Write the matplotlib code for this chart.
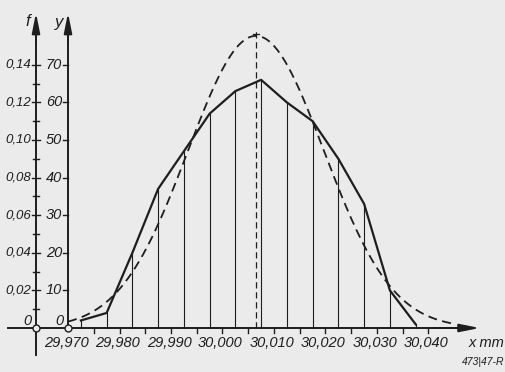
import numpy as np
import matplotlib.pyplot as plt

plt.rcParams['font.family'] = ['Liberation Sans', 'DejaVu Sans']

# class midpoints (mm) and counts y read from the frequency polygon
x_mid = [29.9725, 29.9775, 29.9825, 29.9875, 29.9925, 29.9975, 30.0025,
         30.0075, 30.0125, 30.0175, 30.0225, 30.0275, 30.0325, 30.0375]
counts = [2, 4, 20, 37, 47, 57, 63, 66, 60, 55, 45, 33, 10, 1]
n_total = 500

# dashed normal curve, parameters
mean_x = 30.0065
sigma_x = 0.0132
peak_y = 77.7
curve_from, curve_to = 29.970, 30.0445

x_ticks = [29.970, 29.980, 29.990, 30.000, 30.010, 30.020, 30.030, 30.040]
x_labels = ['29,970', '29,980', '29,990', '30,000', '30,010', '30,020', '30,030', '30,040']
y_ticks = [10, 20, 30, 40, 50, 60, 70]
f_ticks = [0.02, 0.04, 0.06, 0.08, 0.10, 0.12, 0.14]
f_labels = ['0,02', '0,04', '0,06', '0,08', '0,10', '0,12', '0,14']

ink = '#1e1e1e'
bg = '#ebebeb'

# pixel scale of the drawing: 5150 px per mm, 3.76 px per count
sx = 1 / 5150
sy = 1 / 3.76
x0 = 29.970 - 68 * sx

fig = plt.figure(figsize=(5.06, 3.72), dpi=100, facecolor=bg)
ax = fig.add_axes([0, 0, 1, 1])
ax.set_facecolor(bg)
ax.axis('off')
ax.set_xlim(x0, x0 + 506 * sx)
ax.set_ylim(-44 * sy, 328 * sy)

f_axis = 29.970 - 32 * sx
arrow = dict(arrowstyle='-|>,head_length=1.0,head_width=0.2',
             color=ink, lw=1.4, mutation_scale=12)

# axes
ax.plot([x0 + 8 * sx, 30.047], [0, 0], color=ink, lw=1.4)
ax.annotate('', xy=(30.0505, 0), xytext=(30.040, 0), arrowprops=arrow)
ax.plot([f_axis, f_axis], [-27 * sy, 80], color=ink, lw=1.4)
ax.annotate('', xy=(f_axis, 318 * sy), xytext=(f_axis, 75), arrowprops=arrow)
ax.plot([29.970, 29.970], [0, 80], color=ink, lw=1.4)
ax.annotate('', xy=(29.970, 318 * sy), xytext=(29.970, 75), arrowprops=arrow)

# ticks
for t in np.arange(29.975, 30.0401, 0.005):
    ax.plot([t, t], [0, -5 * sy], color=ink, lw=1.0)
for t in y_ticks:
    ax.plot([29.970 - 5 * sx, 29.970], [t, t], color=ink, lw=1.0)
for t in range(5, 71, 5):
    h = 4 if t % 10 == 0 else 3
    ax.plot([f_axis - h * sx, f_axis + h * sx], [t, t], color=ink, lw=1.0)

# tick labels
for t, lab in zip(x_ticks, x_labels):
    ax.text(t - 2 * sx, -15 * sy, lab, ha='center', va='center',
            style='italic', fontsize=10.5, color=ink)
for t in y_ticks:
    ax.text(29.970 - 6 * sx, t, str(t), ha='right', va='center',
            style='italic', fontsize=10.5, color=ink)
for f, lab in zip(f_ticks, f_labels):
    ax.text(f_axis - 5 * sx, f * n_total, lab, ha='right', va='center',
            style='italic', fontsize=9.5, color=ink)
ax.text(f_axis - 5 * sx, 7 * sy, '0', ha='right', va='center',
        style='italic', fontsize=10.5, color=ink)
ax.text(29.970 - 5 * sx, 7 * sy, '0', ha='right', va='center',
        style='italic', fontsize=10.5, color=ink)
ax.text(f_axis - 8 * sx, 307 * sy, 'f', ha='center', va='center',
        style='italic', fontsize=12, color=ink)
ax.text(29.970 - 9 * sx, 306 * sy, 'y', ha='center', va='center',
        style='italic', fontsize=12, color=ink)
ax.text(30.0505 - 14 * sx, -15 * sy, 'x mm', ha='left', va='center',
        style='italic', fontsize=10.5, color=ink)
ax.text(x0 + 504 * sx, -34 * sy, '473|47-R', ha='right', va='center',
        style='italic', fontsize=7.5, color=ink)

# frequency polygon with ordinates
for xm, c in zip(x_mid, counts):
    ax.plot([xm, xm], [0, c], color=ink, lw=0.8)
ax.plot(x_mid, counts, color=ink, lw=1.6, solid_joinstyle='round')

# normal curve
xc = np.linspace(curve_from, curve_to, 300)
yc = peak_y * np.exp(-0.5 * ((xc - mean_x) / sigma_x) ** 2)
ax.plot(xc, yc, color=ink, lw=1.3, dashes=(5, 3))
ax.plot([mean_x, mean_x], [0, peak_y + 2], color=ink, lw=0.9, dashes=(5, 3))
ax.plot([mean_x - 3 * sx, mean_x + 3 * sx], [peak_y + 0.5, peak_y + 0.5], color=ink, lw=0.9)

# origin circles
ax.plot([f_axis, 29.970], [0, 0], 'o', ms=5, mfc=bg, mec=ink, mew=1.0)

fig.savefig('out.png', dpi=100, facecolor=bg)
